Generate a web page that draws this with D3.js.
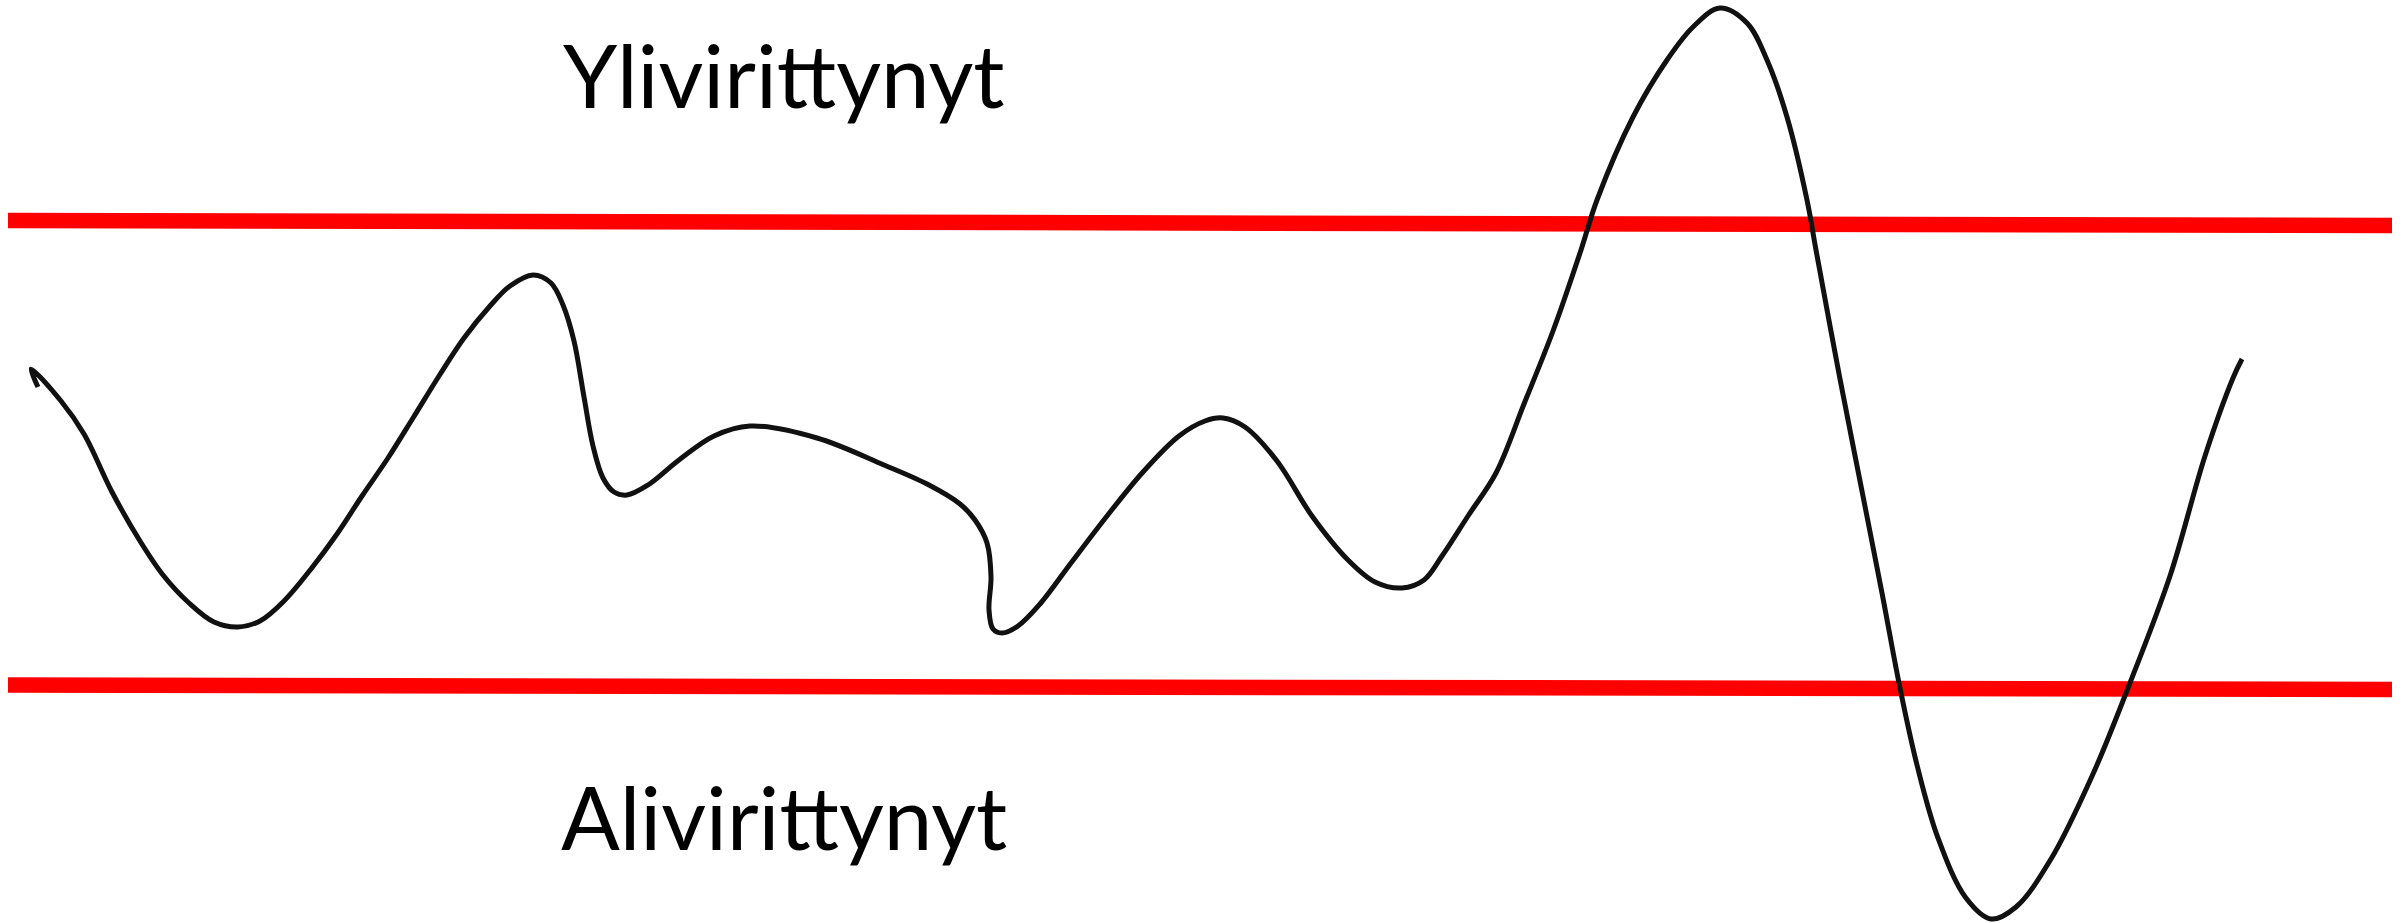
<!DOCTYPE html>
<html lang="fi">
<head>
    <meta charset="UTF-8">
    <title>Yli- ja alivirittynyt</title>
    <script src="https://cdn.jsdelivr.net/npm/d3@7"></script>
    <style>
        html, body {
            margin: 0;
            padding: 0;
            background: #ffffff;
        }
        #chart {
            width: 2405px;
            height: 923px;
        }
        .label {
            font-family: Lato, "Open Sans", sans-serif;
            font-size: 87px;
            fill: #000;
        }
    </style>
</head>
<body>
<div id="chart"></div>
<script type="text/javascript">
    // kayran pisteet (x = mallin kompleksisuus, y = virhe-arvo)
    var curveX = [7.6, 6.2, 12.2, 16.8, 22.4, 28, 32.6, 37.8, 42.8, 47.6, 52, 56.8, 62.2, 67.4, 72.4,
        77.6, 82.6, 87.8, 92.8, 98, 102, 106.6, 110.2, 112.6, 114.8, 116.8, 118.6, 120.6, 122.8, 125.4,
        129.6, 135.8, 142.8, 150, 163.4, 176.8, 185.8, 192, 195, 197.4, 198.2, 197.8, 198.6, 200.4,
        203.6, 208, 214.2, 221.4, 228.6, 235.8, 241, 244.6, 249, 255.4, 262.4, 269.6, 275, 280.4,
        284.8, 288.4, 293.6, 299.2, 304.8, 310.6, 316.2, 319.4, 326.6, 333.4, 338.6, 344, 349.4,
        353.4, 357.4, 361.4, 363.2, 368, 372.2, 376.4, 380, 383.4, 387.6, 393.2, 398.2, 403.2,
        410.2, 418.6, 425.6, 434, 441, 446.6, 448.4];
    var curveY = [107.2, 110.8, 104.4, 97.8, 86.2, 76.4, 69.6, 64, 60.2, 59.2, 60.4, 64.4, 70.8, 77.8, 85.4,
        93, 101, 109.4, 117, 123.4, 127.4, 129.6, 128, 123.6, 116.4, 105.2, 95.4, 89, 86.2, 85.6,
        87.6, 92.6, 97.4, 99.4, 97, 91.6, 87.6, 83.8, 80.6, 76, 69.2, 62.6, 58.8, 58,
        59.4, 63.8, 72, 81.4, 90.2, 97.4, 100.4, 101, 99.2, 92.4, 81.4, 72.6, 68.2, 67,
        68.6, 73.4, 81.4, 90, 103.8, 118.4, 134.6, 144.6, 161.2, 172.6, 179.2, 183, 180,
        172.6, 161.2, 144.6, 134.6, 108.8, 87.4, 66, 47, 31.6, 17, 5, 0.8, 3.2,
        12.8, 29.8, 47, 69.4, 93.4, 109, 112.8];

    // rajaviivat: [alku-x, loppu-x], [alku-y, loppu-y]
    var upperX = [1.6, 478.4];
    var upperY = [140.5, 139.5];
    var lowerX = [1.6, 478.4];
    var lowerY = [47.6, 46.7];

    var labels = ['Ylivirittynyt', 'Alivirittynyt'];
    var labelX = [112.6, 112.2];
    var labelY = [163, 14.6];

    var svgw = 2405;
    var svgh = 923;
    var svg = d3.select('#chart')
        .append('svg')
        .attr('width', svgw)
        .attr('height', svgh);

    var x_scale = d3.scaleLinear()
        .domain([0, 481])
        .range([0, svgw]);
    var y_scale = d3.scaleLinear()
        .domain([0, 184.6])
        .range([svgh, 0]);

    var line = d3.line()
        .x(function (d) { return x_scale(d[0]); })
        .y(function (d) { return y_scale(d[1]); });

    // punaiset rajat
    var limits = [d3.zip(upperX, upperY), d3.zip(lowerX, lowerY)];
    svg.selectAll('path.limit')
        .data(limits)
        .enter()
        .append('path')
        .attr('class', 'limit')
        .attr('d', line)
        .attr('fill', 'none')
        .attr('stroke', '#ff0000')
        .attr('stroke-width', 15.5);

    // musta kayra
    var curveLine = d3.line()
        .x(function (d) { return x_scale(d[0]); })
        .y(function (d) { return y_scale(d[1]); })
        .curve(d3.curveCatmullRom.alpha(0.5));

    svg.append('path')
        .datum(d3.zip(curveX, curveY))
        .attr('d', curveLine)
        .attr('fill', 'none')
        .attr('stroke', '#111111')
        .attr('stroke-width', 5)
        .attr('stroke-linejoin', 'round');

    svg.selectAll('text.label')
        .data(labels)
        .enter()
        .append('text')
        .attr('class', 'label')
        .attr('x', function (d, i) { return x_scale(labelX[i]); })
        .attr('y', function (d, i) { return y_scale(labelY[i]); })
        .text(function (d) { return d; });
</script>
</body>
</html>
